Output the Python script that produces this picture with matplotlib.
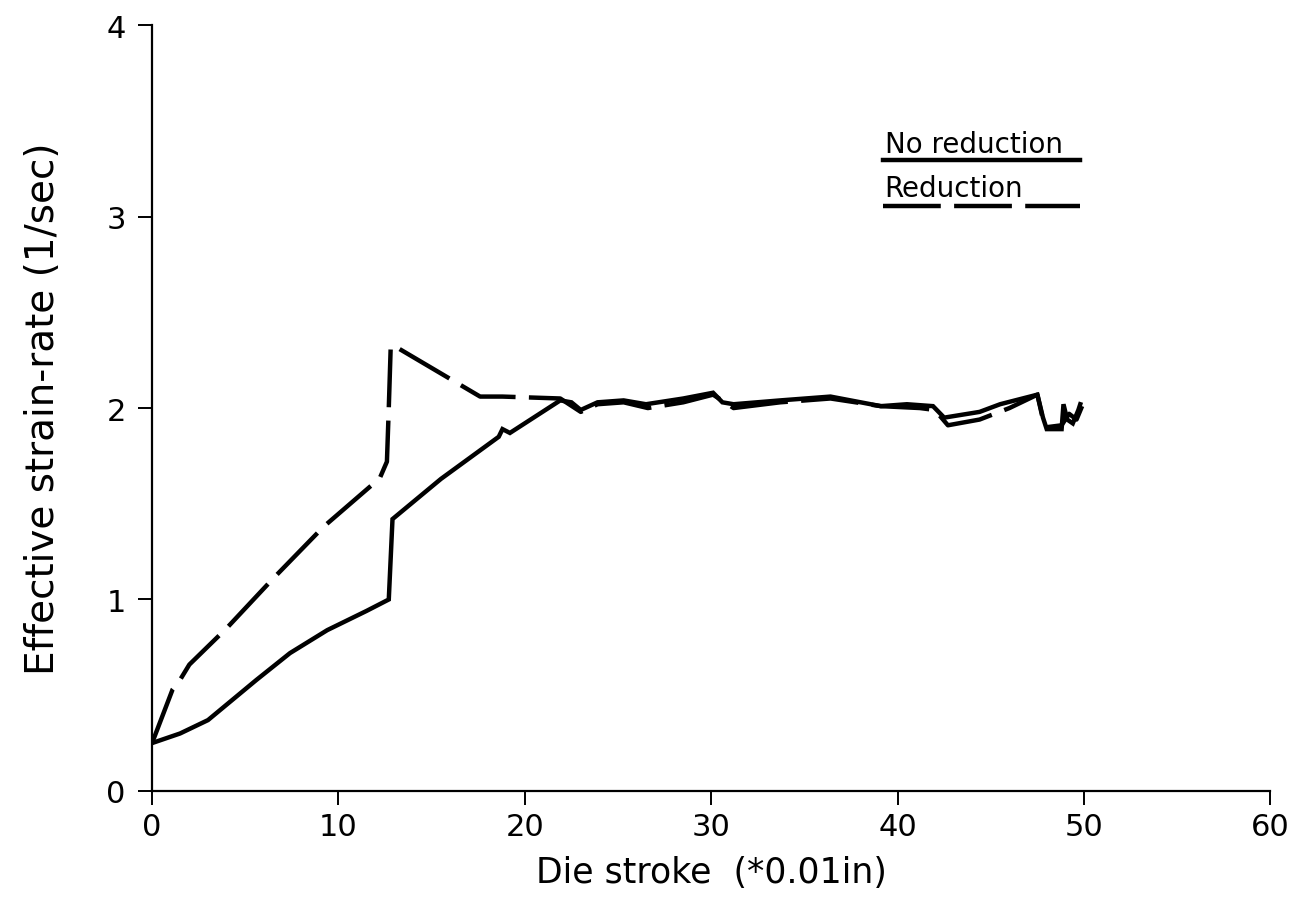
import matplotlib.pyplot as plt
from matplotlib.lines import Line2D

# Die stroke (*0.01 in) and effective strain-rate (1/sec), no reduction
stroke_nored = [0, 1.5, 3.0, 5.6, 7.4, 9.4, 11.5, 12.7, 12.9, 15.5, 18.6, 18.8, 19.2,
                21.9, 22.5, 23.0, 23.9, 25.3, 26.5, 28.5, 30.1, 30.6, 31.2, 33.7,
                36.4, 39.1, 40.5, 41.9, 42.5, 44.4, 45.5, 47.5, 47.8, 48.0, 48.8,
                48.9, 49.1, 49.4, 49.7, 49.8]
rate_nored = [0.25, 0.30, 0.37, 0.58, 0.72, 0.84, 0.94, 1.00, 1.42, 1.63, 1.85, 1.89, 1.87,
              2.04, 2.03, 1.99, 2.03, 2.04, 2.02, 2.05, 2.08, 2.03, 2.02, 2.04,
              2.06, 2.01, 2.02, 2.01, 1.95, 1.98, 2.02, 2.07, 1.95, 1.89, 1.89,
              2.02, 1.94, 1.92, 1.99, 2.02]

# same run with reduction
stroke_red = [0, 1.1, 1.5, 2.0, 4.0, 6.5, 9.2, 11.7, 12.2, 12.6, 12.7, 12.8, 12.9,
              17.6, 18.8, 21.9, 23.0, 23.9, 25.3, 26.6, 28.5, 30.1, 31.2, 33.7,
              36.4, 39.1, 41.2, 42.0, 42.7, 44.4, 46.0, 47.5, 47.8, 48.0, 48.8,
              49.2, 49.6, 49.9]
rate_red = [0.25, 0.53, 0.58, 0.66, 0.85, 1.11, 1.38, 1.59, 1.63, 1.72, 2.00, 2.31, 2.33,
            2.06, 2.06, 2.05, 1.98, 2.02, 2.03, 2.00, 2.03, 2.07, 2.00, 2.03,
            2.05, 2.01, 2.00, 1.99, 1.91, 1.94, 2.00, 2.07, 1.94, 1.90, 1.91,
            1.97, 1.94, 2.01]

x_ticks = [0, 10, 20, 30, 40, 50, 60]
y_ticks = [0, 1, 2, 3, 4]

LW = 3.2
DASH = (13, 3)

fig = plt.figure(figsize=(13.11, 9.03), dpi=100)
ax = fig.add_axes([0.116, 0.123, 0.853, 0.848])

ax.plot(stroke_nored, rate_nored, color='black', lw=LW, solid_joinstyle='miter')
ax.plot(stroke_red, rate_red, color='black', lw=LW, dashes=DASH)

ax.set_xlim(0, 60)
ax.set_ylim(0, 4)
ax.set_xticks(x_ticks)
ax.set_yticks(y_ticks)

for side in ['top', 'right']:
    ax.spines[side].set_visible(False)
for side in ['left', 'bottom']:
    ax.spines[side].set_linewidth(1.6)

ax.tick_params(direction='out', length=10, width=1.4, labelsize=22)
ax.tick_params(axis='x', pad=5)
ax.tick_params(axis='y', pad=9)
ax.set_xlabel('Die stroke  (*0.01in)', fontsize=25, labelpad=10)
ax.set_ylabel('Effective strain-rate (1/sec)', fontsize=28, labelpad=32)

# legend written as underlined labels
ax.text(39.3, 3.34, 'No reduction', fontsize=20, ha='left', va='baseline')
ax.add_line(Line2D([39.2, 49.8], [3.295, 3.295], color='black', lw=LW))
ax.text(39.3, 3.11, 'Reduction', fontsize=20, ha='left', va='baseline')
ax.add_line(Line2D([39.2, 49.8], [3.055, 3.055], color='black', lw=LW, dashes=DASH))

fig.savefig('out.png', dpi=100)
